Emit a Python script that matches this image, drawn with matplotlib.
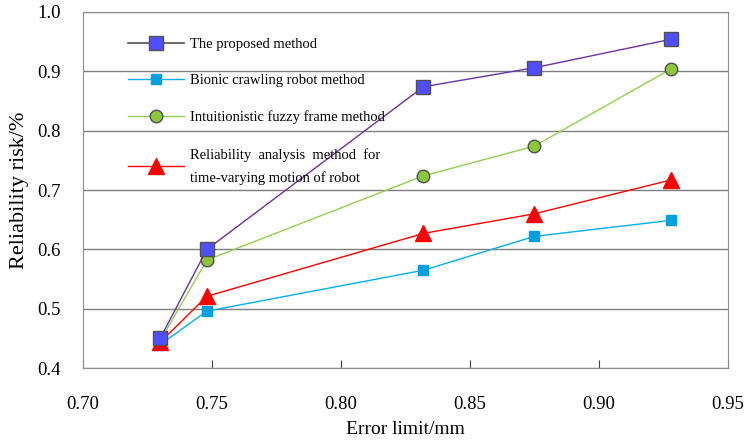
import matplotlib
matplotlib.use("Agg")
import matplotlib.pyplot as plt
from matplotlib.lines import Line2D

plt.rcParams["font.family"] = ["Liberation Serif", "DejaVu Serif"]

x_vals = [0.730, 0.748, 0.832, 0.875, 0.928]
proposed = [0.451, 0.600, 0.874, 0.906, 0.954]
bionic = [0.440, 0.496, 0.565, 0.622, 0.649]
fuzzy = [0.447, 0.582, 0.724, 0.774, 0.904]
reliability = [0.444, 0.521, 0.627, 0.660, 0.717]

labels = [
    "The proposed method",
    "Bionic crawling robot method",
    "Intuitionistic fuzzy frame method",
    "Reliability  analysis  method  for\ntime-varying motion of robot",
]

x_ticks = [0.70, 0.75, 0.80, 0.85, 0.90, 0.95]
y_ticks = [0.4, 0.5, 0.6, 0.7, 0.8, 0.9, 1.0]

fig = plt.figure(figsize=(7.48, 4.42), dpi=100)
ax = fig.add_axes([0.111, 0.167, 0.862, 0.806])

ax.grid(True, axis="y", color="#7f7f7f", linewidth=1.0)
ax.set_axisbelow(True)

ax.plot(x_vals, proposed, color="#7030a0", linewidth=1.0, marker="s", markersize=10,
        markerfacecolor="#4f4fff", markeredgecolor="#505050", markeredgewidth=1.0, zorder=5)
ax.plot(x_vals, bionic, color="#00b0f0", linewidth=1.0, marker="s", markersize=7,
        markerfacecolor="#00a0e0", markeredgecolor="#00a0e0", zorder=4)
ax.plot(x_vals, fuzzy, color="#92d050", linewidth=1.0, marker="o", markersize=9,
        markerfacecolor="#8cc63f", markeredgecolor="#505050", markeredgewidth=1.0, zorder=4)
ax.plot(x_vals, reliability, color="#ff0000", linewidth=1.0, marker="^", markersize=11,
        markerfacecolor="#ff0000", markeredgecolor="#ff0000", zorder=4)

handles = [
    Line2D([], [], color="#505050", linewidth=1.2, marker="s", markersize=10,
           markerfacecolor="#4f4fff", markeredgecolor="#505050"),
    Line2D([], [], color="#00b0f0", linewidth=1.0, marker="s", markersize=7,
           markerfacecolor="#00a0e0", markeredgecolor="#00a0e0"),
    Line2D([], [], color="#92d050", linewidth=1.0, marker="o", markersize=9,
           markerfacecolor="#8cc63f", markeredgecolor="#505050"),
    Line2D([], [], color="#ff0000", linewidth=1.0, marker="^", markersize=11,
           markerfacecolor="#ff0000", markeredgecolor="#ff0000"),
]
leg = ax.legend(handles, labels, loc="upper left", bbox_to_anchor=(0.05, 0.965),
                frameon=False, fontsize=10.5, handlelength=3.8, handletextpad=0.4,
                labelspacing=1.6)
leg.get_texts()[3].set_linespacing(1.9)

ax.set_xlim(0.70, 0.95)
ax.set_ylim(0.4, 1.0)
ax.set_xticks(x_ticks)
ax.set_xticklabels([f"{v:.2f}" for v in x_ticks])
ax.set_yticks(y_ticks)
ax.set_yticklabels([f"{v:.1f}" for v in y_ticks])
ax.tick_params(axis="x", direction="in", length=6, pad=20, labelsize=13.5, color="#404040")
ax.tick_params(axis="y", length=0, pad=16, labelsize=13.5)

for spine in ax.spines.values():
    spine.set_color("#8c8c8c")

ax.set_xlabel("Error limit/mm", fontsize=14, labelpad=6)
ax.set_ylabel("Reliability risk/%", fontsize=16, labelpad=6)

fig.savefig("out.png", dpi=100)
